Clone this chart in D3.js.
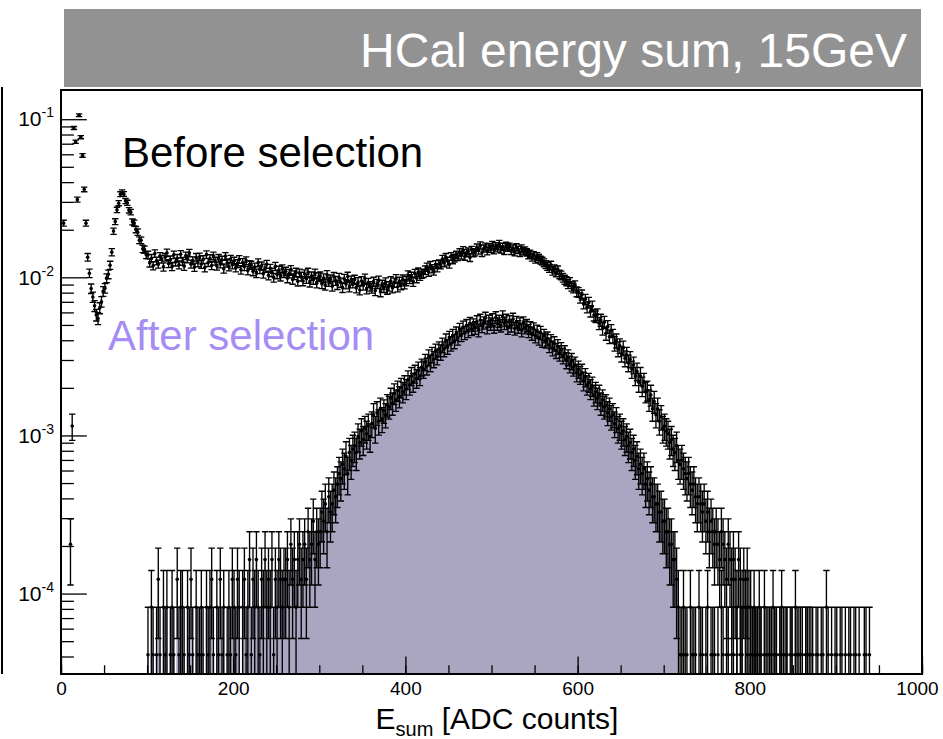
<!DOCTYPE html>
<html>
<head>
<meta charset="utf-8">
<script src="https://cdn.jsdelivr.net/npm/d3@7"></script>
<style>
  body { margin: 0; background: #fff; }
  svg { display: block; font-family: "Liberation Sans", Arial, Helvetica, sans-serif; }
</style>
</head>
<body>
<svg id="chart" width="943" height="739"></svg>
<script>
// histogram binning (ADC counts)
const binWidth = 2;
const beforeStart = 0;
const afterStart = 100;
// one entry corresponds to this normalised value
const unitWeight = 4.1e-5;
// the filled histogram stops here
const fillMaxAdc = 716;

// entries per bin, before selection (bins from 0 ADC, 20 ADC per row)
const beforeCounts = [
  0, 537, 0, 0, 0, 5, 28, 2146, 1756, 756,
  2585, 1878, 1439, 878, 537, 327, 259, 207, 183, 161,
  141, 134, 156, 171, 199, 208, 241, 255, 291, 352,
  478, 549, 651, 718, 819, 842, 821, 741, 722, 648,
  631, 547, 538, 489, 471, 419, 418, 369, 365, 339,
  338, 301, 322, 289, 345, 310, 296, 331, 318, 284,
  327, 349, 298, 315, 286, 339, 305, 322, 293, 341,
  308, 287, 334, 319, 348, 296, 311, 283, 327, 302,
  329, 295, 316, 281, 340, 303, 321, 290, 334, 309,
  288, 322, 297, 314, 276, 331, 301, 285, 318, 293,
  309, 281, 298, 317, 272, 303, 286, 311, 269, 294,
  291, 266, 283, 259, 302, 274, 288, 257, 279, 295,
  251, 278, 262, 243, 286, 255, 270, 247, 276, 259,
  266, 241, 258, 273, 236, 252, 262, 230, 259, 247,
  231, 256, 239, 262, 227, 248, 236, 259, 224, 245,
  248, 222, 241, 217, 253, 229, 237, 214, 246, 232,
  219, 243, 226, 210, 239, 221, 247, 212, 233, 224,
  236, 209, 228, 203, 231, 217, 240, 206, 225, 214,
  208, 229, 201, 222, 233, 198, 219, 210, 227, 205,
  214, 231, 209, 226, 238, 212, 229, 218, 237, 221,
  231, 252, 238, 247, 229, 258, 241, 263, 249, 256,
  259, 271, 283, 264, 290, 277, 268, 294, 281, 297,
  293, 318, 302, 327, 309, 296, 331, 315, 322, 338,
  329, 351, 337, 362, 331, 348, 356, 325, 364, 347,
  352, 377, 361, 389, 349, 371, 382, 357, 378, 369,
  391, 362, 384, 373, 398, 366, 381, 359, 387, 376,
  382, 359, 371, 352, 378, 364, 349, 372, 357, 361,
  351, 338, 344, 327, 336, 318, 331, 322, 314, 309,
  302, 294, 287, 279, 291, 268, 276, 262, 271, 255,
  251, 243, 236, 231, 222, 228, 214, 209, 217, 198,
  196, 181, 189, 167, 177, 158, 169, 149, 160, 141,
  138, 142, 125, 131, 116, 127, 108, 119, 103, 112,
  104, 93, 97, 86, 90, 80, 87, 75, 79, 70,
  74, 64, 68, 58, 62, 53, 58, 50, 53, 46,
  47, 41, 44, 36, 40, 33, 36, 30, 32, 27,
  28, 26, 25, 22, 23, 20, 19, 21, 17, 16,
  17, 15, 14, 13, 14, 12, 11, 12, 10, 9,
  10, 9, 8, 9, 7, 8, 6, 7, 6, 5,
  6, 5, 4, 6, 5, 4, 3, 5, 4, 3,
  4, 3, 2, 4, 3, 2, 3, 2, 3, 2,
  2, 1, 2, 1, 1, 2, 1, 0, 2, 1,
  1, 1, 0, 2, 1, 1, 0, 1, 2, 0,
  1, 1, 0, 1, 1, 0, 2, 1, 1, 0,
  1, 0, 1, 1, 0, 1, 1, 0, 1, 1,
  0, 1, 1, 0, 2, 1, 0, 1, 0, 1,
  1, 0, 1, 1, 0, 1, 0, 1, 1, 0,
  1, 1, 0, 1, 0, 0, 1, 1, 0, 1
];

// entries per bin, after selection (bins from 100 ADC, 20 ADC per row)
const afterCounts = [
  1, 0, 2, 1, 0, 1, 3, 1, 0, 2,
  1, 2, 0, 1, 2, 1, 0, 3, 1, 2,
  2, 1, 0, 2, 1, 3, 1, 0, 2, 1,
  1, 2, 1, 0, 2, 1, 2, 3, 1, 0,
  2, 1, 3, 1, 2, 0, 1, 2, 1, 3,
  2, 1, 3, 2, 0, 2, 3, 1, 2, 4,
  1, 3, 2, 4, 2, 1, 3, 2, 4, 2,
  3, 2, 4, 1, 3, 2, 4, 3, 2, 3,
  3, 4, 2, 5, 3, 4, 2, 4, 5, 3,
  4, 5, 3, 6, 4, 5, 7, 4, 6, 5,
  6, 8, 7, 9, 6, 10, 8, 9, 11, 10,
  12, 14, 13, 16, 15, 18, 14, 19, 17, 20,
  21, 19, 24, 22, 26, 23, 27, 25, 28, 24,
  29, 33, 27, 34, 30, 36, 31, 35, 33, 38,
  37, 42, 39, 45, 41, 47, 43, 49, 46, 51,
  48, 55, 51, 58, 53, 60, 56, 63, 58, 66,
  64, 71, 67, 76, 70, 79, 74, 83, 77, 86,
  82, 91, 86, 97, 89, 101, 93, 104, 96, 108,
  101, 114, 106, 118, 109, 121, 112, 125, 115, 122,
  117, 128, 113, 131, 120, 126, 135, 118, 129, 124,
  132, 119, 136, 124, 129, 121, 138, 125, 131, 117,
  128, 121, 133, 116, 127, 119, 124, 113, 126, 118,
  121, 112, 117, 108, 115, 104, 111, 101, 109, 98,
  104, 97, 100, 91, 96, 87, 93, 84, 89, 81,
  85, 78, 81, 73, 76, 69, 72, 66, 68, 61,
  64, 59, 61, 54, 57, 51, 53, 48, 50, 44,
  46, 42, 44, 39, 41, 37, 38, 34, 36, 32,
  33, 29, 31, 27, 28, 25, 26, 23, 24, 21,
  22, 19, 20, 17, 18, 15, 16, 14, 15, 12,
  13, 11, 12, 10, 10, 9, 9, 8, 8, 7,
  7, 6, 6, 5, 5, 4, 4, 3,
  2, 1, 1, 2, 1, 1, 0, 2, 1, 1,
  1, 0, 2, 1, 1, 0, 1, 2, 0, 1,
  1, 1, 0, 1, 0, 2, 1, 0, 1, 1,
  0, 1, 1, 0, 1, 0, 1, 1, 0, 2,
  1, 0, 1, 0, 1, 1, 0, 0, 1, 0,
  1, 0, 0, 1, 1, 0, 1, 0, 0, 1,
  0, 1, 0, 1, 0, 0, 1, 0, 1, 0,
  0, 1, 0, 0, 1, 0, 1, 0
];

const xTickValues = [0, 200, 400, 600, 800, 1000];
const yDecades = [1e-4, 1e-3, 1e-2, 1e-1];
const yDecadeLabels = ["-4", "-3", "-2", "-1"];

const frame = { left: 61, right: 922, top: 90, bottom: 674 };

const svg = d3.select("#chart");

const x = d3.scaleLinear().domain([0, 1000]).range([frame.left, frame.right]);
const y = d3.scaleLog().domain([3.1e-5, 0.153]).range([frame.bottom, frame.top]);

function toBins(start, counts) {
  return counts.map((n, i) => ({
    x0: start + i * binWidth,
    x1: start + (i + 1) * binWidth,
    n: n,
    v: n * unitWeight,
    e: Math.sqrt(n) * unitWeight
  }));
}

const beforeAll = toBins(beforeStart, beforeCounts);
const afterAll = toBins(afterStart, afterCounts);
const before = beforeAll.filter(d => d.n > 0);
const after = afterAll.filter(d => d.n > 0);

// title banner
svg.append("rect")
  .attr("x", 64).attr("y", 9)
  .attr("width", 857).attr("height", 78)
  .attr("fill", "#929292");
svg.append("text")
  .attr("x", 907).attr("y", 67)
  .attr("text-anchor", "end")
  .attr("font-size", 48)
  .attr("fill", "#fff")
  .text("HCal energy sum, 15GeV");

// left border line of the canvas
svg.append("line")
  .attr("x1", 2).attr("x2", 2)
  .attr("y1", 87).attr("y2", frame.bottom)
  .attr("stroke", "#000").attr("stroke-width", 2);

svg.append("clipPath").attr("id", "frameClip")
  .append("rect")
  .attr("x", frame.left).attr("y", frame.top)
  .attr("width", frame.right - frame.left)
  .attr("height", frame.bottom - frame.top);

const plot = svg.append("g").attr("clip-path", "url(#frameClip)");

// filled histogram (after selection), drawn as one step area
const fillBins = afterAll.filter(d => d.x1 <= fillMaxAdc);
const fillPoints = fillBins.map(d => ({ adc: d.x0, v: d.v }));
fillPoints.push({ adc: fillBins[fillBins.length - 1].x1, v: 0 });
const fillArea = d3.area()
  .curve(d3.curveStepAfter)
  .x(d => x(d.adc))
  .y0(frame.bottom + 2)
  .y1(d => d.v > 0 ? y(d.v) : frame.bottom + 2);
plot.append("path")
  .attr("d", fillArea(fillPoints))
  .attr("fill", "#aaa6c2");

function errorPath(bins) {
  const p = d3.path();
  const cap = 3.2;
  bins.forEach(d => {
    const cx = x((d.x0 + d.x1) / 2);
    const hi = y(d.v + d.e);
    const hasLow = d.v - d.e > 0;
    const lo = hasLow ? y(d.v - d.e) : frame.bottom + 5;
    p.moveTo(cx, hi); p.lineTo(cx, lo);
    p.moveTo(cx - cap, hi); p.lineTo(cx + cap, hi);
    if (hasLow) { p.moveTo(cx - cap, lo); p.lineTo(cx + cap, lo); }
  });
  return p.toString();
}

[after, before].forEach(bins => {
  plot.append("path")
    .attr("d", errorPath(bins))
    .attr("fill", "none")
    .attr("stroke", "#000")
    .attr("stroke-width", 1.35);
  plot.append("g")
    .selectAll("circle")
    .data(bins)
    .join("circle")
    .attr("cx", d => x((d.x0 + d.x1) / 2))
    .attr("cy", d => y(d.v))
    .attr("r", 1.8)
    .attr("fill", "#000");
});

// axes
const yMinor = y.ticks().filter(v => Math.abs(Math.log10(v) - Math.round(Math.log10(v))) > 1e-6);

const gyMinor = svg.append("g")
  .attr("transform", "translate(" + frame.left + ",0)")
  .call(d3.axisLeft(y).tickValues(yMinor).tickSize(-12.9).tickFormat(""));
const gy = svg.append("g")
  .attr("transform", "translate(" + frame.left + ",0)")
  .call(d3.axisLeft(y).tickValues(yDecades).tickSize(-25.8).tickPadding(7).tickFormat(""));

const gxMinor = svg.append("g")
  .attr("transform", "translate(0," + frame.bottom + ")")
  .call(d3.axisBottom(x).tickValues(d3.range(0, 1001, 50)).tickSize(-8.8).tickFormat(""));
const gx = svg.append("g")
  .attr("transform", "translate(0," + frame.bottom + ")")
  .call(d3.axisBottom(x).tickValues(xTickValues).tickSize(-17.5).tickPadding(8).tickFormat(d3.format("d")));

[gyMinor, gy, gxMinor, gx].forEach(g => {
  g.select(".domain").remove();
  g.selectAll(".tick line").attr("stroke", "#000").attr("stroke-width", 1.3);
  g.attr("font-family", null).attr("font-size", null);
});

gx.selectAll(".tick text")
  .attr("font-size", 19)
  .attr("fill", "#000")
  .attr("dx", d => d === 1000 ? -5 : 0);

gy.selectAll(".tick text")
  .attr("font-size", 21)
  .attr("fill", "#000")
  .each(function(d, i) {
    const t = d3.select(this);
    t.append("tspan").text("10");
    t.append("tspan").attr("dy", -9).attr("font-size", 14).text(yDecadeLabels[i]);
  });

// frame
svg.append("rect")
  .attr("x", frame.left).attr("y", frame.top)
  .attr("width", frame.right - frame.left)
  .attr("height", frame.bottom - frame.top)
  .attr("fill", "none")
  .attr("stroke", "#000")
  .attr("stroke-width", 2);

// axis title
const title = svg.append("text")
  .attr("x", 497).attr("y", 729)
  .attr("text-anchor", "middle")
  .attr("font-size", 30)
  .attr("fill", "#000");
title.append("tspan").text("E");
title.append("tspan").attr("dy", 7).attr("font-size", 20).text("sum");
title.append("tspan").attr("dy", -7).text(" [ADC counts]");

// labels
svg.append("text")
  .attr("x", 122).attr("y", 167)
  .attr("font-size", 42)
  .attr("fill", "#000")
  .text("Before selection");
svg.append("text")
  .attr("x", 108).attr("y", 350)
  .attr("font-size", 42)
  .attr("fill", "#a68cf5")
  .text("After selection");
</script>
</body>
</html>
